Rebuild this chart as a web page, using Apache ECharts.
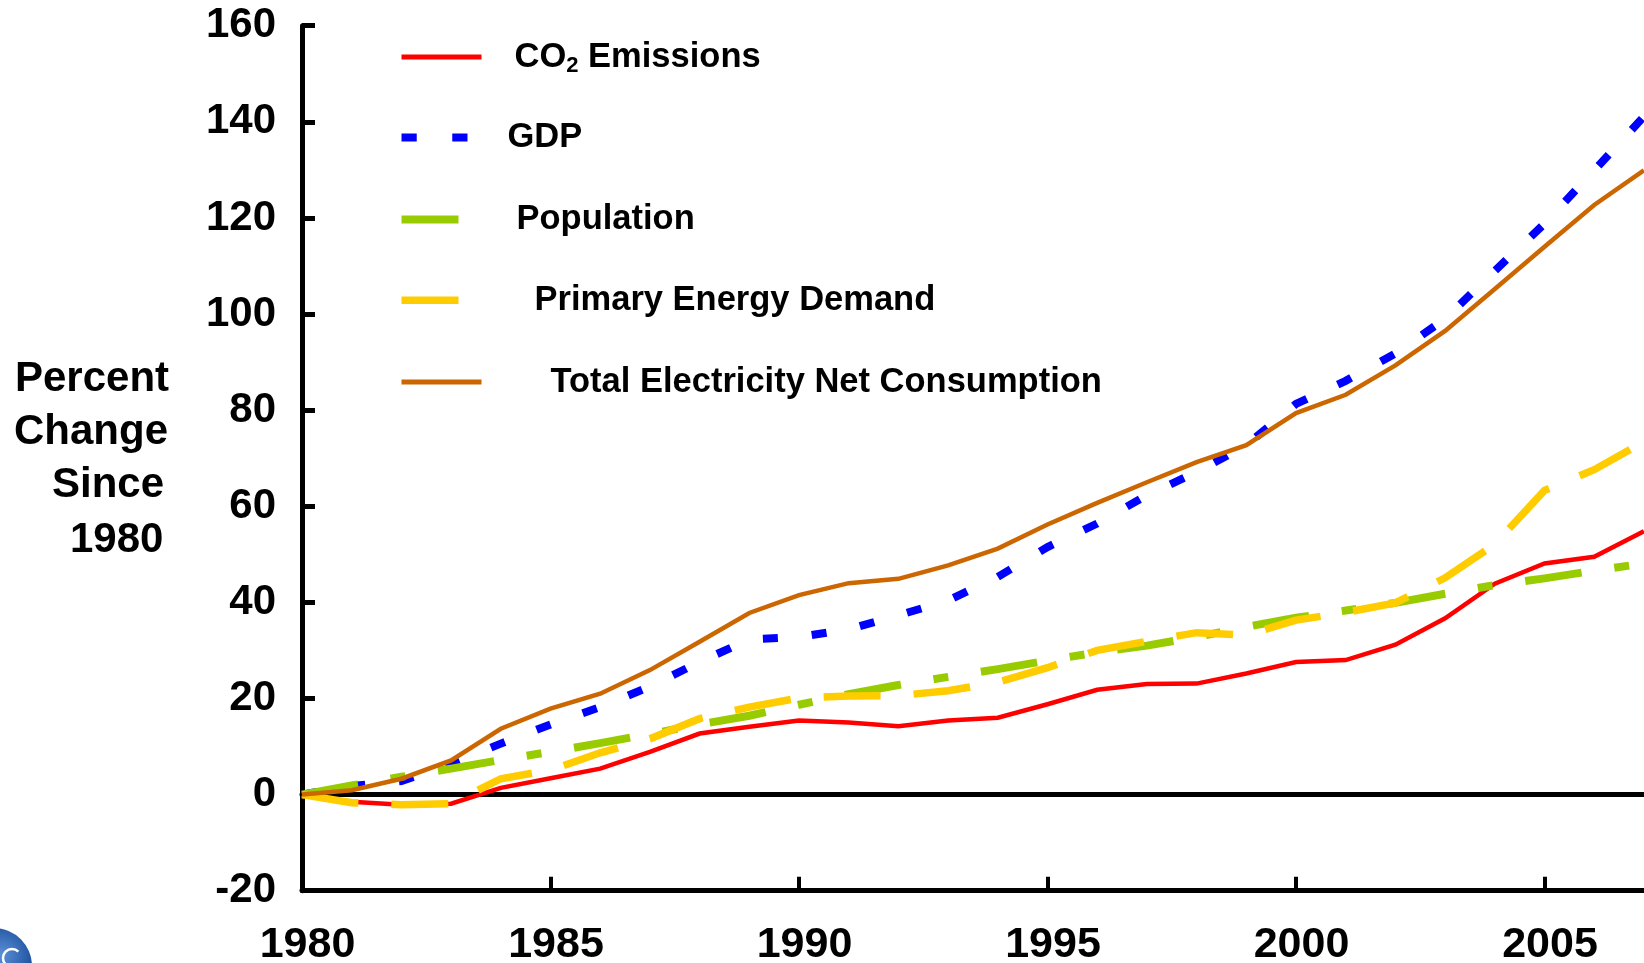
<!DOCTYPE html>
<html>
<head>
<meta charset="utf-8">
<title>Percent Change Since 1980</title>
<script src="https://cdn.jsdelivr.net/npm/echarts@6/dist/echarts.min.js"></script>
<style>
  html, body { margin: 0; padding: 0; background: #fff; }
  #chart { width: 1644px; height: 963px; }
</style>
</head>
<body>
<div id="chart"></div>
<script>
// Years on the horizontal axis
const years = [1980, 1981, 1982, 1983, 1984, 1985, 1986, 1987, 1988, 1989,
               1990, 1991, 1992, 1993, 1994, 1995, 1996, 1997, 1998, 1999,
               2000, 2001, 2002, 2003, 2004, 2005, 2006, 2007];

// Percent change since 1980
const co2Emissions = [0, -1.5, -2.1, -1.9, 1.4, 3.4, 5.4, 8.9, 12.7, 14.1,
                      15.4, 15.0, 14.2, 15.4, 16.0, 18.8, 21.8, 23.0, 23.1, 25.2,
                      27.6, 28.0, 31.2, 36.7, 43.9, 48.1, 49.5, 54.8];
const gdp = [0, 1.8, 2.8, 6.4, 10.6, 14.6, 18.2, 22.5, 27.6, 32.3,
             32.8, 34.4, 37.3, 40.4, 45.3, 51.5, 56.4, 62.3, 67.1, 72.7,
             81.3, 86.1, 91.8, 99.0, 109.0, 118.8, 129.9, 141.1];
const population = [0, 1.9, 3.7, 5.4, 7.2, 8.9, 10.7, 12.6, 14.6, 16.4,
                    18.7, 20.9, 22.8, 24.5, 26.1, 27.9, 29.6, 31.0, 32.8, 34.9,
                    36.8, 38.3, 39.9, 41.8, 43.6, 45.0, 46.6, 48.1];
const primaryEnergy = [0, -1.7, -2.1, -1.9, 3.3, 5.1, 8.7, 11.6, 15.8, 18.2,
                       20.1, 20.5, 20.6, 21.6, 23.4, 26.4, 30.0, 31.9, 33.7, 33.2,
                       36.3, 37.9, 39.9, 45.1, 52.1, 63.3, 67.6, 73.4];
const electricity = [0, 0.9, 3.3, 7.1, 13.7, 17.9, 21.0, 25.9, 31.8, 37.8,
                     41.5, 44.0, 44.9, 47.7, 51.2, 56.2, 60.7, 65.0, 69.2, 72.7,
                     79.4, 83.2, 89.3, 96.5, 105.2, 114.0, 122.7, 129.9];

// Axis ticks
const yTicks = [-20, 0, 20, 40, 60, 80, 100, 120, 140, 160];
const xTicks = [1980, 1985, 1990, 1995, 2000, 2005];

const seriesNames = ['CO2 Emissions', 'GDP', 'Population',
                     'Primary Energy Demand', 'Total Electricity Net Consumption'];
const titleLines = ['Percent', 'Change', 'Since', '1980'];

const FONT = '"Liberation Sans", Arial, Helvetica, sans-serif';

const pairs = vals => years.map((y, i) => [y, vals[i]]);

// Line look per series: colour, width, dash pattern
const looks = [
  { color: '#ff0000', width: 4.5, type: 'solid' },
  { color: '#0000ff', width: 8, type: [15, 34] },
  { color: '#99cc00', width: 8, type: [57, 33, 15, 33] },
  { color: '#ffcc00', width: 7.5, type: [57, 33] },
  { color: '#cc6600', width: 4.5, type: 'solid' }
];
const values = [co2Emissions, gdp, population, primaryEnergy, electricity];

const series = seriesNames.map((name, i) => ({
  name: name,
  type: 'line',
  data: pairs(values[i]),
  symbol: 'none',
  showSymbol: false,
  smooth: false,
  clip: true,
  silent: true,
  lineStyle: { color: looks[i].color, width: looks[i].width, type: looks[i].type, cap: 'butt', join: 'miter' },
  itemStyle: { color: looks[i].color }
}));

// One legend block per row so every label can sit at its own offset;
// the key swatches mimic each line's stroke (two squares for the dotted GDP line)
const legendRows = [
  { center: 57,    iconW: 80, iconH: 5,   icon: 'rect', pad: 28 },
  { center: 137.5, iconW: 66, iconH: 8.5, icon: 'path://M0,0H15V8H0Z M50,0H65V8H50Z', pad: 35 },
  { center: 219.5, iconW: 57, iconH: 8,   icon: 'rect', pad: 53 },
  { center: 300.3, iconW: 57, iconH: 7.5, icon: 'rect', pad: 71 },
  { center: 382,   iconW: 80, iconH: 5,   icon: 'rect', pad: 64 }
];
const legends = legendRows.map((row, i) => ({
  data: [seriesNames[i]],
  orient: 'vertical',
  left: 401.5,
  top: row.center - 20,
  padding: 0,
  icon: row.icon,
  itemWidth: row.iconW,
  itemHeight: row.iconH,
  selectedMode: false,
  itemStyle: { color: looks[i].color, borderWidth: 0, opacity: 1 },
  formatter: i === 0 ? () => '{a|CO}{s|2}{a| Emissions}' : undefined,
  textStyle: {
    color: '#000',
    fontFamily: FONT,
    fontWeight: 'bold',
    fontSize: 34.5,
    lineHeight: 40,
    padding: [0, 0, 0, row.pad],
    rich: {
      a: { fontFamily: FONT, fontWeight: 'bold', fontSize: 34.5, lineHeight: 40, color: '#000' },
      s: { fontFamily: FONT, fontWeight: 'bold', fontSize: 22, lineHeight: 16, verticalAlign: 'bottom', color: '#000' }
    }
  }
}));

// Axis title drawn line by line
const titleLayout = [
  { x: 15, y: 379 }, { x: 14, y: 432.5 }, { x: 52, y: 485.5 }, { x: 70, y: 540.5 }
];
const titleGraphics = titleLines.map((t, i) => ({
  type: 'text',
  left: titleLayout[i].x,
  top: titleLayout[i].y - 21,
  silent: true,
  style: {
    text: t,
    fill: '#000',
    font: 'bold 42px ' + FONT,
    textVerticalAlign: 'top'
  }
}));

const option = {
  animation: false,
  backgroundColor: '#ffffff',
  grid: {
    left: 302, right: -149, top: 25.7, bottom: 72.3,
    containLabel: false,
    outerBoundsMode: 'none'
  },
  legend: legends,
  xAxis: [
    {
      type: 'value',
      min: xTicks[0],
      max: 2010,
      interval: 5,
      splitLine: { show: false },
      axisLine: { show: true, onZero: false, lineStyle: { color: '#000', width: 5 } },
      axisTick: { show: true, inside: true, length: 14, lineStyle: { color: '#000', width: 4 } },
      axisLabel: {
        show: true, color: '#000', fontFamily: FONT, fontWeight: 'bold', fontSize: 43, margin: 33,
        padding: [0, 0, 0, 11],
        formatter: v => String(v)
      }
    },
    {
      // Reference line at zero percent change
      type: 'value',
      min: xTicks[0],
      max: 2010,
      position: 'bottom',
      splitLine: { show: false },
      axisLine: { show: true, onZero: true, lineStyle: { color: '#000', width: 5 } },
      axisTick: { show: false },
      axisLabel: { show: false }
    }
  ],
  yAxis: {
    type: 'value',
    min: yTicks[0],
    max: yTicks[yTicks.length - 1],
    interval: 20,
    splitLine: { show: false },
    axisLine: { show: true, lineStyle: { color: '#000', width: 5 } },
    axisTick: { show: true, inside: true, length: 13, lineStyle: { color: '#000', width: 5 } },
    axisLabel: {
      show: true, color: '#000', fontFamily: FONT, fontWeight: 'bold', fontSize: 42, margin: 26,
      padding: [10, 0, 0, 0]
    }
  },
  graphic: titleGraphics.concat([
    {
      type: 'circle',
      silent: true,
      shape: { cx: -6, cy: 966, r: 38 },
      style: {
        fill: {
          type: 'radial', x: 0.6, y: 0.35, r: 0.8,
          colorStops: [{ offset: 0, color: '#5b8fd6' }, { offset: 0.55, color: '#1b4f9c' }, { offset: 1, color: '#0d2f6b' }]
        }
      }
    },
    {
      type: 'arc',
      silent: true,
      shape: { cx: 12, cy: 958, r: 9, startAngle: Math.PI * 0.25, endAngle: Math.PI * 1.75, clockwise: true },
      style: { stroke: '#ffffff', lineWidth: 2.5, fill: 'none' }
    }
  ]),
  series: series
};

const chart = echarts.init(document.getElementById('chart'), null, { renderer: 'canvas' });
chart.setOption(option);
</script>
</body>
</html>
